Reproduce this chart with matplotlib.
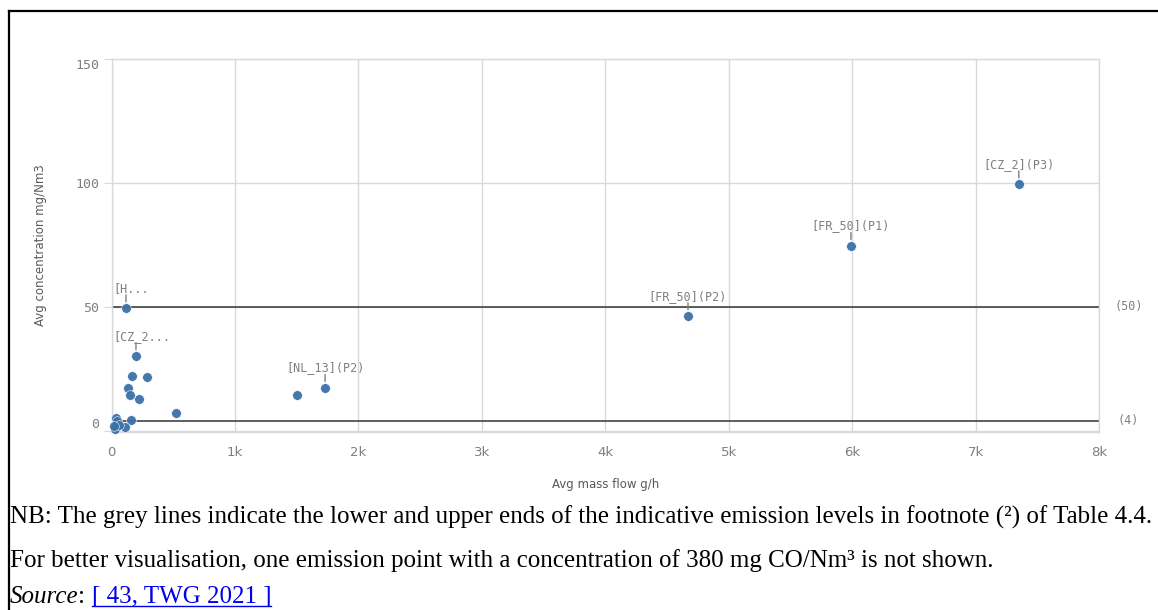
import matplotlib
matplotlib.use("Agg")
import matplotlib.pyplot as plt
from matplotlib.lines import Line2D

plt.rcParams.update({
    'font.family': 'DejaVu Sans', 'font.size': 9,
    'figure.facecolor': 'white', 'axes.facecolor': 'white',
})

# ── DONNEES ──────────────────────────────────────────────────
mass_flow = [7350, 5990, 4670, 1730, 1500, 117, 198, 168, 287, 131,
             150, 220, 522, 155, 109, 28, 37, 47, 60, 20]
conc = [99.5, 74.7, 46.3, 17.4, 14.4, 49.5, 30.2, 22.0, 21.8, 17.1,
        14.4, 12.8, 7.2, 4.3, 1.6, 0.9, 5.0, 4.0, 2.5, 2.0]
point_labels = ['[CZ_2](P3)', '[FR_50](P1)', '[FR_50](P2)', '[NL_13](P2)',
                '[H...', '[CZ_2...']
labelled_idx = [0, 1, 2, 3, 5, 6]
left_clipped = [False, False, False, False, True, True]

ref_levels = [50, 4]
ref_labels = ['(50)', '(4)']

x_ticks = [0, 1000, 2000, 3000, 4000, 5000, 6000, 7000, 8000]
x_ticklabels = ['0', '1k', '2k', '3k', '4k', '5k', '6k', '7k', '8k']
y_ticks = [0, 50, 100, 150]
y_ticklabels = ['0', '50', '100', '150']

GRID = '#d9d9d9'
TXT = '#7f7f7f'
BLUE = '#3b6fa8'
MONO = 'DejaVu Sans Mono'

# ── FIGURE ───────────────────────────────────────────────────
fig = plt.figure(figsize=(11.58, 6.10), dpi=100)
ax = fig.add_axes([0.0963, 0.2918, 0.8528, 0.6115])

ax.set_xlim(0, 8000)
ax.set_ylim(-0.5, 150)
ax.set_xticks(x_ticks)
ax.set_xticklabels(x_ticklabels, family='Liberation Sans Narrow', fontsize=9.5, color=TXT)
ax.set_yticks(y_ticks)
ax.set_yticklabels(y_ticklabels, family=MONO, fontsize=9.5, color=TXT)
ax.tick_params(axis='x', length=0, pad=10)
ax.tick_params(axis='y', length=6, color=GRID, pad=3)
ylabs = ax.get_yticklabels()
ylabs[0].set_va('bottom')
ylabs[-1].set_va('top')

ax.grid(True, color=GRID, linewidth=1)
ax.set_axisbelow(True)
for sp in ax.spines.values():
    sp.set_color(GRID)
    sp.set_linewidth(1)

ax.set_xlabel('Avg mass flow g/h', fontsize=8.5, color='#595959', labelpad=14)
ax.set_ylabel('Avg concentration mg/Nm3', fontsize=8.5, color='#595959', labelpad=20)

# lignes de reference
for lev, lab in zip(ref_levels, ref_labels):
    ax.axhline(lev, color='#333333', linewidth=1.1, zorder=2)
    ax.text(1.03, lev, lab, transform=ax.get_yaxis_transform(),
            family=MONO, fontsize=8.5, color=TXT, ha='center', va='center')

ax.scatter(mass_flow, conc, s=48, color=BLUE, edgecolors='white',
           linewidths=0.4, alpha=0.95, zorder=3, clip_on=False)

# etiquettes des points
for lab, i, clipped in zip(point_labels, labelled_idx, left_clipped):
    x, y = mass_flow[i], conc[i]
    ax.annotate('', xy=(x, y), xytext=(0, 9.5), textcoords='offset points',
                arrowprops=dict(arrowstyle='-', color=TXT, lw=1,
                                shrinkA=0, shrinkB=4.5))
    if clipped:
        ax.annotate(lab, xy=(0, y), xycoords=ax.get_yaxis_transform(),
                    xytext=(1, 9.5), textcoords='offset points',
                    family=MONO, fontsize=8.5, color=TXT,
                    ha='left', va='bottom')
    else:
        ax.annotate(lab, xy=(x, y), xytext=(0, 9.5), textcoords='offset points',
                    family=MONO, fontsize=8.5, color=TXT,
                    ha='center', va='bottom')

# ── CADRE ────────────────────────────────────────────────────
xb = 8.5 / 1158
yt = 1 - 10.5 / 610
fig.add_artist(Line2D([xb, 1], [yt, yt], color='black', lw=1.6,
                      transform=fig.transFigure))
fig.add_artist(Line2D([xb, xb], [0, yt], color='black', lw=1.6,
                      transform=fig.transFigure))

# ── NOTES ────────────────────────────────────────────────────
SERIF = 'Liberation Serif'
fs = 18
fig.text(0.0085, 0.141,
         'NB: The grey lines indicate the lower and upper ends of the indicative '
         'emission levels in footnote (\u00b2) of Table 4.4.',
         family=SERIF, fontsize=fs, va='baseline')
fig.text(0.0085, 0.0705,
         'For better visualisation, one emission point with a concentration '
         'of 380 mg CO/Nm\u00b3 is not shown.',
         family=SERIF, fontsize=fs, va='baseline')

r = fig.canvas.get_renderer()
t1 = fig.text(0.0085, 0.012, 'Source', family=SERIF, style='italic',
              fontsize=fs, va='baseline')
x1 = fig.transFigure.inverted().transform(t1.get_window_extent(r))[1][0]
t2 = fig.text(x1, 0.012, ': ', family=SERIF, fontsize=fs, va='baseline')
x2 = fig.transFigure.inverted().transform(t2.get_window_extent(r))[1][0]
t3 = fig.text(x2, 0.012, '[ 43, TWG 2021 ]', family=SERIF, fontsize=fs,
              color='#0000ee', va='baseline')
x3 = fig.transFigure.inverted().transform(t3.get_window_extent(r))[1][0]
fig.add_artist(Line2D([x2, x3], [0.006, 0.006], color='#0000ee', lw=1,
                      transform=fig.transFigure))

fig.savefig('out.png', dpi=100)
